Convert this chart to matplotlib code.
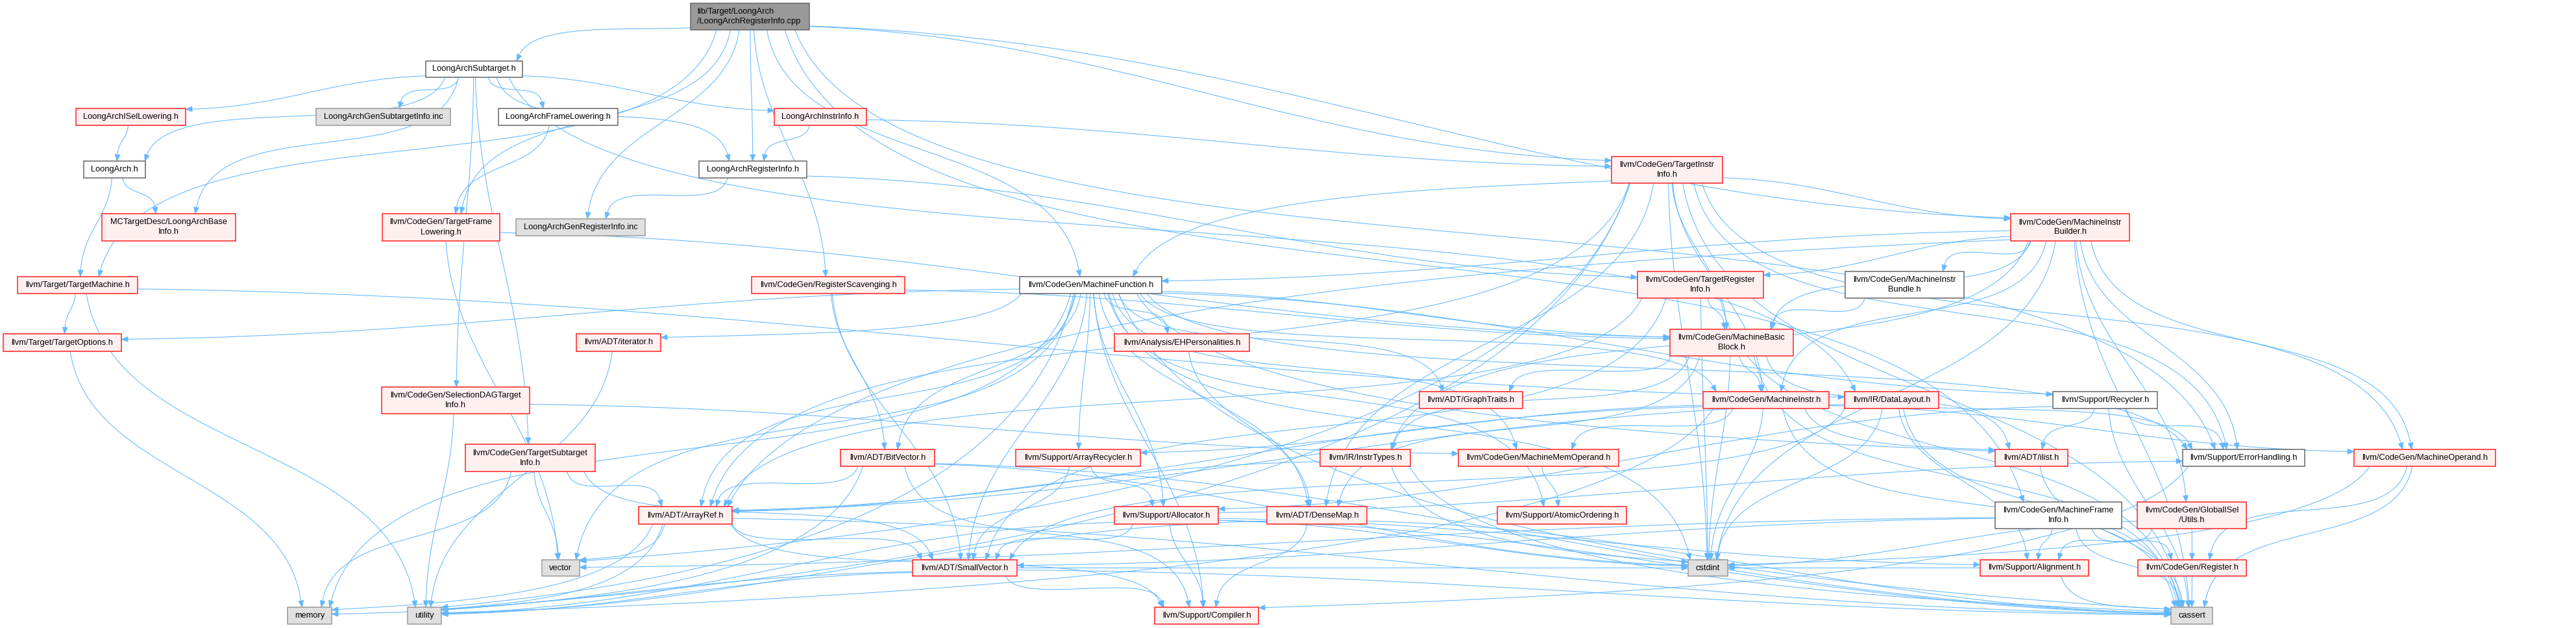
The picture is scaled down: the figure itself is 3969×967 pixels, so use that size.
import numpy as np
import matplotlib
matplotlib.use("Agg")
import matplotlib.pyplot as plt
from matplotlib.path import Path
from matplotlib.patches import PathPatch, Rectangle, Polygon

# ---------------- data ----------------
node_ids = ["root", "sub", "isel", "gensub", "framelow", "instrinfo", "la", "reginfo", "tii",
            "baseinfo", "tfl", "genreg", "mib", "tm", "regscav", "mf", "tri", "bundle", "mbb",
            "topts", "iter", "ehp", "sdag", "graph", "mi", "dl", "recycler", "tsi", "bitvec",
            "arrrec", "instrtypes", "mmo", "ilist", "errh", "mop", "arrayref", "alloc", "densemap",
            "atomic", "mfi", "utils", "vector", "smallvec", "cstdint", "align", "register",
            "memory", "utility", "compiler", "cassert"]

node_labels = {
    "root": "lib/Target/LoongArch\n/LoongArchRegisterInfo.cpp",
    "sub": "LoongArchSubtarget.h",
    "isel": "LoongArchISelLowering.h",
    "gensub": "LoongArchGenSubtargetInfo.inc",
    "framelow": "LoongArchFrameLowering.h",
    "instrinfo": "LoongArchInstrInfo.h",
    "la": "LoongArch.h",
    "reginfo": "LoongArchRegisterInfo.h",
    "tii": "llvm/CodeGen/TargetInstr\nInfo.h",
    "baseinfo": "MCTargetDesc/LoongArchBase\nInfo.h",
    "tfl": "llvm/CodeGen/TargetFrame\nLowering.h",
    "genreg": "LoongArchGenRegisterInfo.inc",
    "mib": "llvm/CodeGen/MachineInstr\nBuilder.h",
    "tm": "llvm/Target/TargetMachine.h",
    "regscav": "llvm/CodeGen/RegisterScavenging.h",
    "mf": "llvm/CodeGen/MachineFunction.h",
    "tri": "llvm/CodeGen/TargetRegister\nInfo.h",
    "bundle": "llvm/CodeGen/MachineInstr\nBundle.h",
    "mbb": "llvm/CodeGen/MachineBasic\nBlock.h",
    "topts": "llvm/Target/TargetOptions.h",
    "iter": "llvm/ADT/iterator.h",
    "ehp": "llvm/Analysis/EHPersonalities.h",
    "sdag": "llvm/CodeGen/SelectionDAGTarget\nInfo.h",
    "graph": "llvm/ADT/GraphTraits.h",
    "mi": "llvm/CodeGen/MachineInstr.h",
    "dl": "llvm/IR/DataLayout.h",
    "recycler": "llvm/Support/Recycler.h",
    "tsi": "llvm/CodeGen/TargetSubtarget\nInfo.h",
    "bitvec": "llvm/ADT/BitVector.h",
    "arrrec": "llvm/Support/ArrayRecycler.h",
    "instrtypes": "llvm/IR/InstrTypes.h",
    "mmo": "llvm/CodeGen/MachineMemOperand.h",
    "ilist": "llvm/ADT/ilist.h",
    "errh": "llvm/Support/ErrorHandling.h",
    "mop": "llvm/CodeGen/MachineOperand.h",
    "arrayref": "llvm/ADT/ArrayRef.h",
    "alloc": "llvm/Support/Allocator.h",
    "densemap": "llvm/ADT/DenseMap.h",
    "atomic": "llvm/Support/AtomicOrdering.h",
    "mfi": "llvm/CodeGen/MachineFrame\nInfo.h",
    "utils": "llvm/CodeGen/GlobalISel\n/Utils.h",
    "vector": "vector",
    "smallvec": "llvm/ADT/SmallVector.h",
    "cstdint": "cstdint",
    "align": "llvm/Support/Alignment.h",
    "register": "llvm/CodeGen/Register.h",
    "memory": "memory",
    "utility": "utility",
    "compiler": "llvm/Support/Compiler.h",
    "cassert": "cassert",
}

node_kind = {n: "red" for n in node_ids}
node_kind.update({"root": "root", "sub": "white", "framelow": "white", "la": "white",
                  "reginfo": "white", "mf": "white", "bundle": "white", "recycler": "white",
                  "errh": "white", "mfi": "white",
                  "gensub": "sys", "genreg": "sys", "vector": "sys", "cstdint": "sys",
                  "memory": "sys", "utility": "sys", "cassert": "sys"})

edges = [
    ("root", "reginfo"), ("root", "sub"), ("root", "tm"), ("root", "tfl"), ("root", "genreg"),
    ("root", "regscav"), ("root", "mf"), ("root", "tii"), ("root", "mib"), ("root", "errh"),
    ("root", "mfi"),
    ("sub", "isel"), ("sub", "gensub"), ("sub", "framelow"), ("sub", "instrinfo"),
    ("sub", "reginfo"), ("sub", "la"), ("sub", "baseinfo"), ("sub", "sdag"), ("sub", "tsi"),
    ("sub", "dl"),
    ("isel", "la"), ("la", "baseinfo"), ("la", "tm"), ("framelow", "tfl"),
    ("instrinfo", "reginfo"), ("instrinfo", "tii"), ("reginfo", "genreg"), ("reginfo", "tri"),
    ("tfl", "mbb"), ("tfl", "vector"),
    ("tm", "topts"), ("tm", "dl"), ("tm", "utility"), ("topts", "memory"),
    ("sdag", "utility"), ("sdag", "mmo"),
    ("tsi", "memory"), ("tsi", "vector"), ("tsi", "arrayref"), ("tsi", "smallvec"),
    ("iter", "utility"),
    ("regscav", "bitvec"), ("regscav", "smallvec"), ("regscav", "mbb"),
    ("mf", "arrayref"), ("mf", "bitvec"), ("mf", "densemap"), ("mf", "graph"), ("mf", "smallvec"),
    ("mf", "ilist"), ("mf", "iter"), ("mf", "ehp"), ("mf", "mbb"), ("mf", "mi"), ("mf", "mmo"),
    ("mf", "alloc"), ("mf", "arrrec"), ("mf", "atomic"), ("mf", "compiler"), ("mf", "recycler"),
    ("mf", "topts"), ("mf", "cassert"), ("mf", "cstdint"), ("mf", "memory"), ("mf", "utility"),
    ("mf", "vector"), ("mf", "errh"),
    ("tii", "mbb"), ("tii", "mf"), ("tii", "mi"), ("tii", "mib"), ("tii", "mop"),
    ("tii", "arrayref"), ("tii", "densemap"), ("tii", "errh"), ("tii", "cassert"),
    ("tii", "cstdint"), ("tii", "utility"), ("tii", "vector"),
    ("mib", "arrayref"), ("mib", "utils"), ("mib", "mbb"), ("mib", "mf"), ("mib", "mi"),
    ("mib", "bundle"), ("mib", "mop"), ("mib", "tri"), ("mib", "errh"), ("mib", "cassert"),
    ("mib", "cstdint"), ("mib", "instrtypes"),
    ("tri", "arrayref"), ("tri", "smallvec"), ("tri", "mbb"), ("tri", "cassert"), ("tri", "cstdint"),
    ("bundle", "mbb"),
    ("mbb", "graph"), ("mbb", "ilist"), ("mbb", "mi"), ("mbb", "instrtypes"), ("mbb", "cassert"),
    ("mbb", "cstdint"), ("mbb", "densemap"),
    ("mi", "ilist"), ("mi", "arrrec"), ("mi", "mmo"), ("mi", "mop"), ("mi", "cassert"),
    ("mi", "cstdint"), ("mi", "utility"), ("mi", "arrayref"),
    ("dl", "arrayref"), ("dl", "smallvec"), ("dl", "align"), ("dl", "errh"), ("dl", "cassert"),
    ("dl", "cstdint"),
    ("instrtypes", "arrayref"), ("instrtypes", "cstdint"), ("instrtypes", "cassert"),
    ("mmo", "atomic"),
    ("bitvec", "arrayref"), ("bitvec", "utility"), ("bitvec", "cassert"), ("bitvec", "cstdint"),
    ("bitvec", "compiler"),
    ("arrrec", "smallvec"), ("arrrec", "alloc"),
    ("alloc", "smallvec"), ("alloc", "align"), ("alloc", "compiler"), ("alloc", "errh"),
    ("alloc", "cassert"), ("alloc", "cstdint"), ("alloc", "utility"),
    ("densemap", "compiler"), ("densemap", "cassert"), ("densemap", "utility"),
    ("arrayref", "smallvec"), ("arrayref", "compiler"), ("arrayref", "cassert"),
    ("arrayref", "memory"), ("arrayref", "utility"), ("arrayref", "vector"),
    ("smallvec", "compiler"), ("smallvec", "cassert"), ("smallvec", "cstdint"),
    ("smallvec", "memory"), ("smallvec", "utility"),
    ("ehp", "densemap"),
    ("recycler", "ilist"), ("recycler", "alloc"), ("recycler", "errh"), ("recycler", "cassert"),
    ("ilist", "cassert"), ("errh", "compiler"),
    ("mop", "register"), ("mop", "cassert"), ("mop", "cstdint"),
    ("mfi", "align"), ("mfi", "cassert"), ("mfi", "register"), ("mfi", "smallvec"), ("mfi", "vector"),
    ("utils", "register"), ("utils", "align"), ("utils", "cstdint"),
    ("align", "cassert"), ("align", "cstdint"), ("register", "cassert"),
]

# ---------------- layout (pixel boxes: x0, y0, x1, y1) ----------------
layout = {
    "root": (1064, 5, 1247, 46), "sub": (656, 94, 805, 119), "isel": (117, 167, 286, 193),
    "gensub": (487, 167, 694, 193), "framelow": (768, 167, 952, 193),
    "instrinfo": (1193, 167, 1335, 193), "la": (129, 248, 224, 274),
    "reginfo": (1077, 248, 1243, 274), "tii": (2483, 241, 2654, 282),
    "baseinfo": (157, 329, 363, 371), "tfl": (589, 329, 770, 371), "genreg": (795, 337, 994, 363),
    "mib": (3098, 329, 3281, 371), "tm": (27, 426, 212, 452), "regscav": (1158, 426, 1394, 452),
    "mf": (1571, 426, 1790, 452), "tri": (2523, 418, 2717, 459), "bundle": (2843, 418, 3026, 459),
    "mbb": (2573, 507, 2763, 548), "topts": (5, 514, 187, 541), "iter": (888, 514, 1018, 541),
    "ehp": (1717, 514, 1925, 541), "sdag": (588, 596, 816, 637), "graph": (2187, 603, 2346, 629),
    "mi": (2624, 603, 2818, 629), "dl": (2842, 603, 2987, 629), "recycler": (3163, 603, 3324, 629),
    "tsi": (717, 684, 917, 726), "bitvec": (1295, 692, 1440, 718), "arrrec": (1565, 692, 1757, 718),
    "instrtypes": (2034, 692, 2173, 718), "mmo": (2247, 692, 2494, 718), "ilist": (3074, 692, 3186, 718),
    "errh": (3363, 692, 3551, 718), "mop": (3627, 692, 3845, 718), "arrayref": (984, 780, 1128, 807),
    "alloc": (1717, 780, 1877, 807), "densemap": (1952, 780, 2106, 807),
    "atomic": (2307, 780, 2506, 807), "mfi": (3074, 773, 3269, 814), "utils": (3293, 773, 3461, 814),
    "vector": (835, 862, 893, 887), "smallvec": (1406, 862, 1567, 887), "cstdint": (2601, 862, 2662, 887),
    "align": (3051, 862, 3218, 887), "register": (3294, 862, 3461, 887), "memory": (443, 935, 511, 961),
    "utility": (628, 935, 680, 961), "compiler": (1779, 935, 1939, 961), "cassert": (3345, 935, 3409, 961),
}

styles = {
    "red": dict(fc="#FFF0F0", ec="#FF2020"),
    "white": dict(fc="#FFFFFF", ec="#666666"),
    "sys": dict(fc="#E0E0E0", ec="#999999"),
    "root": dict(fc="#999999", ec="#666666"),
}
EDGE = "#63B8FF"
W, H = 3969, 967

fig = plt.figure(figsize=(W / 100, H / 100), dpi=100)
ax = fig.add_axes([0, 0, 1, 1])
ax.set_xlim(0, W)
ax.set_ylim(H, 0)
ax.axis("off")


def clip(box, p):
    x0, y0, x1, y1 = box
    cx, cy = (x0 + x1) / 2, (y0 + y1) / 2
    dx, dy = p[0] - cx, p[1] - cy
    hw, hh = (x1 - x0) / 2, (y1 - y0) / 2
    tx = hw / abs(dx) if dx != 0 else np.inf
    ty = hh / abs(dy) if dy != 0 else np.inf
    if ty <= tx:
        return np.array([cx + dx * ty, cy + dy * ty]), np.array([0.0, np.sign(dy)])
    return np.array([cx + dx * tx, cy + dy * tx]), np.array([np.sign(dx), 0.0])


def center(box):
    return np.array([(box[0] + box[2]) / 2, (box[1] + box[3]) / 2])


for s, t in edges:
    bs, bt = layout[s], layout[t]
    cs, ct = center(bs), center(bt)
    p0, n0 = clip(bs, ct)
    p3, n3 = clip(bt, cs)
    d = p3 - p0
    L = np.hypot(*d)
    proj0 = np.dot(d, n0)
    proj3 = np.dot(-d, n3)
    k0 = min(0.3 * L, 0.6 * abs(proj0) + 15) if proj0 > 0 else 30
    k3 = min(0.3 * L, 0.6 * abs(proj3) + 15) if proj3 > 0 else 30
    p1 = p0 + k0 * n0 + 0.08 * d
    p2 = p3 + k3 * n3 - 0.08 * d
    tang = p3 - p2
    tang = tang / (np.hypot(*tang) + 1e-9)
    alen, ahw = 10.0, 4.0
    base = p3 - alen * tang
    p2b = p2 - alen * tang
    verts = [p0, p1, p2b, base]
    path = Path(verts, [Path.MOVETO, Path.CURVE4, Path.CURVE4, Path.CURVE4])
    ax.add_patch(PathPatch(path, fc="none", ec=EDGE, lw=0.75, zorder=1))
    perp = np.array([-tang[1], tang[0]])
    ax.add_patch(Polygon([p3, base + ahw * perp, base - ahw * perp], closed=True,
                         fc=EDGE, ec=EDGE, lw=0.5, zorder=2))

for n in node_ids:
    x0, y0, x1, y1 = layout[n]
    st = styles[node_kind[n]]
    ax.add_patch(Rectangle((x0, y0), x1 - x0, y1 - y0, fc=st["fc"], ec=st["ec"], lw=1.1, zorder=3))
    lines = node_labels[n].split("\n")
    cy = (y0 + y1) / 2
    for i, line in enumerate(lines):
        yy = cy + (i - (len(lines) - 1) / 2) * 15
        if n == "root":
            ax.text(x0 + 10, yy, line, ha="left", va="center", fontsize=9.3,
                    family="Liberation Sans", color="#000000", zorder=4)
        else:
            ax.text((x0 + x1) / 2, yy, line, ha="center", va="center", fontsize=9.3,
                    family="Liberation Sans", color="#000000", zorder=4)

fig.savefig("out.png", dpi=100, facecolor="white")
